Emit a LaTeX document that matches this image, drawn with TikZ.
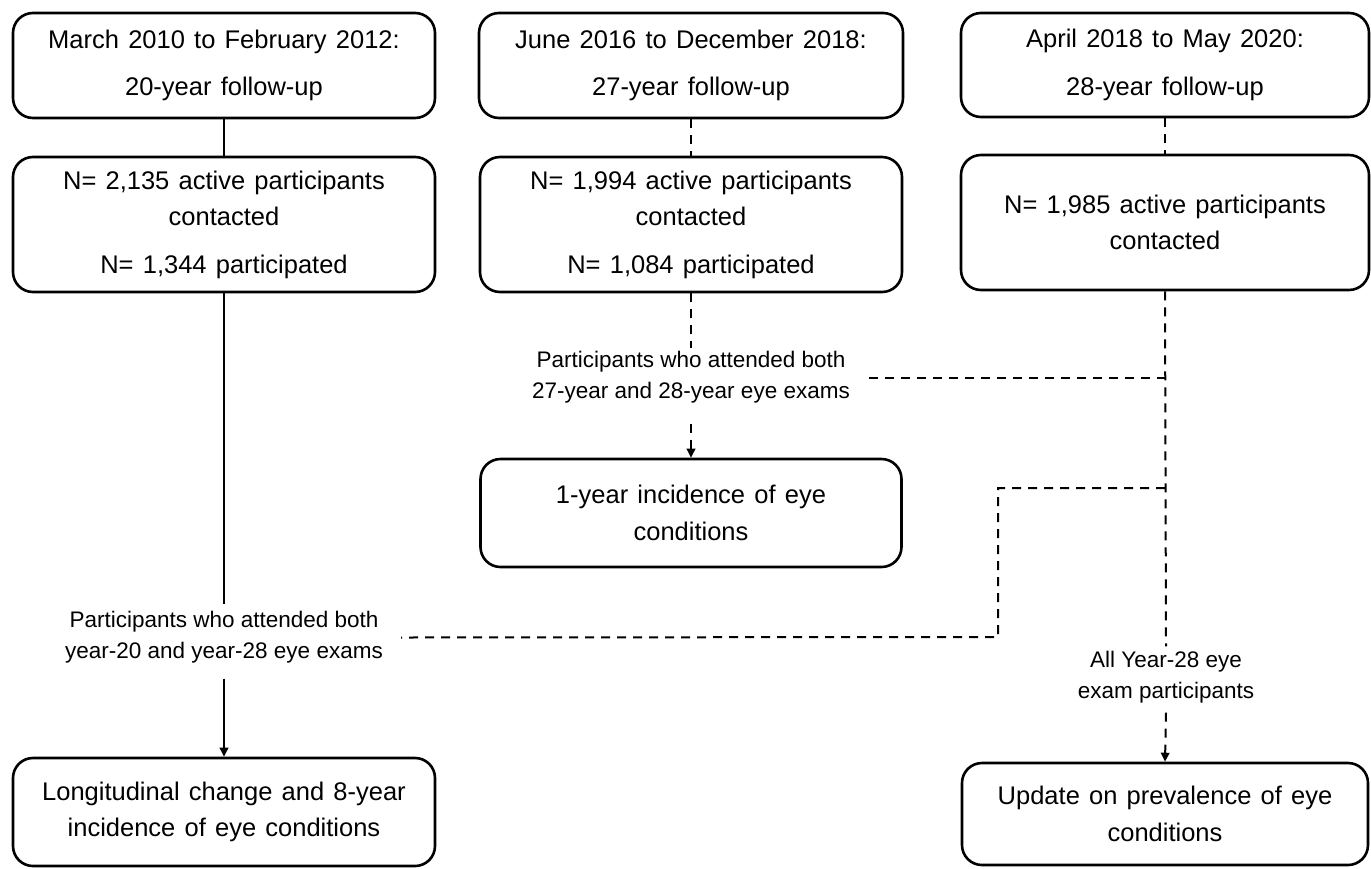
\documentclass[tikz,border=0pt]{standalone}
\usepackage{fontspec}
\setmainfont{Liberation Sans}
\newfontfamily\boxfont{Liberation Sans}[WordSpace=1.3]
\usetikzlibrary{arrows.meta}
\begin{document}
\begin{tikzpicture}[x=1pt,y=-1pt,
  box/.style={draw, line width=2.6pt, rounded corners=20pt, align=center, inner sep=0pt,
    font=\boxfont\fontsize{25.5}{36.5}\selectfont},
  lbl/.style={align=center, inner sep=0pt, font=\fontsize{22.5}{31}\selectfont},
  conn/.style={line width=2pt},
  dconn/.style={line width=2pt, dash pattern=on 9pt off 7pt},
  arr/.style={-{Triangle[length=9pt,width=8.5pt]}}
]
\useasboundingbox (0,0) rectangle (1371,868);

% top row
\node[box, minimum width=422pt, minimum height=105pt] (t1) at (224,65.5)
  {March 2010 to February 2012:\\[11pt]20-year follow-up};
\node[box, minimum width=424pt, minimum height=105pt] (t2) at (691,65.5)
  {June 2016 to December 2018:\\[11pt]27-year follow-up};
\node[box, minimum width=408pt, minimum height=104pt] (t3) at (1165,65)
  {April 2018 to May 2020:\\[11pt]28-year follow-up};

% second row
\node[box, minimum width=422pt, minimum height=135pt] (p1) at (224,224.5)
  {N= 2,135 active participants\\contacted\\[11pt]N= 1,344 participated};
\node[box, minimum width=422pt, minimum height=135pt] (p2) at (691,224.5)
  {N= 1,994 active participants\\contacted\\[11pt]N= 1,084 participated};
\node[box, minimum width=408pt, minimum height=135pt] (p3) at (1165,222.5)
  {N= 1,985 active participants\\contacted};

% labels
\node[lbl] (lblM) at (691,377.5) {Participants who attended both\\27-year and 28-year eye exams};
\node[lbl] (lblL) at (224,637.5) {Participants who attended both\\year-20 and year-28 eye exams};
\node[lbl] (lblR) at (1166,677.5) {All Year-28 eye\\exam participants};

% outcome boxes
\node[box, minimum width=421pt, minimum height=108pt] (inc) at (691,513)
  {1-year incidence of eye\\conditions};
\node[box, minimum width=422pt, minimum height=108pt] (lon) at (224,812)
  {Longitudinal change and 8-year\\incidence of eye conditions};
\node[box, minimum width=406pt, minimum height=102pt] (upd) at (1165,814)
  {Update on prevalence of eye\\conditions};

% left column (solid)
\draw[conn] (t1.south) -- (p1.north);
\draw[conn] (p1.south) -- ([yshift=7pt]lblL.north);
\draw[conn,arr] ([yshift=-15pt]lblL.south) -- (lon.north);

% middle column (dashed)
\draw[dconn] (t2.south) -- (p2.north);
\draw[dconn] (p2.south) -- ([yshift=3pt]lblM.north);
\draw[dconn,arr] ([yshift=-20pt]lblM.south) -- (inc.north);

% right column (dashed)
\draw[dconn] (t3.south) -- (p3.north);
\draw[dconn] (p3.south) -- ([yshift=5pt]lblR.north);
\draw[dconn,arr] ([yshift=-9pt]lblR.south) -- (upd.north);

% cross links
\draw[dconn] ([xshift=19pt]lblM.east) -- (lblM.east -| p3.south);
\coordinate (bendA) at (998,488);
\coordinate (bendB) at (998,637);
\draw[dconn] (bendA -| p3.south) -- (bendA) -- (bendB) -- ([xshift=18pt]lblL.east);
\end{tikzpicture}
\end{document}
